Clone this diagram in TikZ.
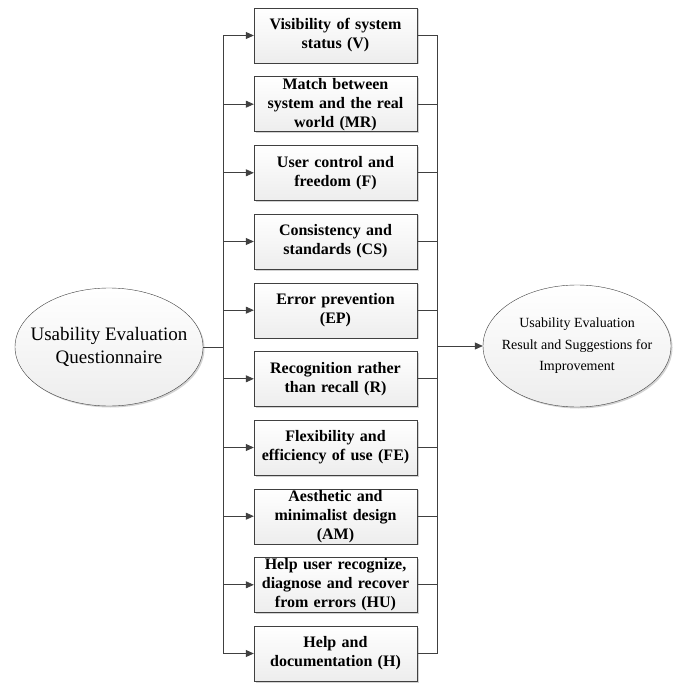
\documentclass[tikz,border=0pt]{standalone}
\usepackage{fontspec}
\setmainfont{Liberation Serif}
\usetikzlibrary{arrows.meta,shadows,shapes.geometric}
\definecolor{linegray}{HTML}{404040}
\tikzset{
  crit/.style={draw=linegray, top color=white, bottom color=gray!14,
    minimum width=163pt, minimum height=55pt, text width=161pt,
    align=center, inner sep=0pt,
    font=\bfseries\fontsize{16}{19}\selectfont,
    drop shadow={shadow xshift=1.5pt, shadow yshift=-1.5pt, fill=gray!70}},
  oval/.style={draw=linegray, ellipse, inner sep=0pt, top color=white,
    bottom color=gray!14,
    drop shadow={shadow xshift=1.5pt, shadow yshift=-1.5pt, fill=gray!70}},
  link/.style={draw=linegray, line width=0.8pt},
  arr/.style={link, -{Triangle[length=8pt,width=7pt]}}
}
\begin{document}
\begin{tikzpicture}[x=1pt,y=1pt]
\useasboundingbox (0,0) rectangle (672,-684);
% the two ellipses
\node [oval, minimum width=188pt, minimum height=118pt] (quest) at (109,-347) {};
\node [align=center, font=\fontsize{19}{23}\selectfont] (questtxt) at (quest)
  {Usability Evaluation\\Questionnaire};
\node [oval, minimum width=188pt, minimum height=122pt] (result) at (577,-346) {};
\node [align=center, font=\fontsize{14}{21.5}\selectfont] (resulttxt) at (result)
  {Usability Evaluation\\Result and Suggestions for\\Improvement};
% the ten criteria
\node [crit] (v)  at (335.5,-35.5)  {Visibility of system\\status (V)};
\node [crit] (mr) at (335.5,-104.2) {Match between\\system and the real\\world (MR)};
\node [crit] (f)  at (335.5,-172.8) {User control and\\freedom (F)};
\node [crit] (cs) at (335.5,-241.5) {Consistency and\\standards (CS)};
\node [crit] (ep) at (335.5,-310.2) {Error prevention\\(EP)};
\node [crit] (r)  at (335.5,-378.8) {Recognition rather\\than recall (R)};
\node [crit] (fe) at (335.5,-447.5) {Flexibility and\\efficiency of use (FE)};
\node [crit] (am) at (335.5,-516.2) {Aesthetic and\\minimalist design\\(AM)};
\node [crit] (hu) at (335.5,-584.8) {Help user recognize,\\diagnose and recover\\from errors (HU)};
\node [crit] (h)  at (335.5,-653.5) {Help and\\documentation (H)};
% spines
\coordinate (lt) at (223,-35.5);
\coordinate (lb) at (223,-653.5);
\coordinate (rt) at (437,-35.5);
\coordinate (rb) at (437,-653.5);
\draw [link] (lt) -- (lb);
\draw [link] (rt) -- (rb);
\draw [link] (quest.east) -- (quest.east -| lt);
\draw [arr] (result.west -| rt) -- (result.west);
% branches
\draw [arr] (v.west -| lt) -- (v.west);
\draw [link] (v.east) -- (v.east -| rt);
\draw [arr] (mr.west -| lt) -- (mr.west);
\draw [link] (mr.east) -- (mr.east -| rt);
\draw [arr] (f.west -| lt) -- (f.west);
\draw [link] (f.east) -- (f.east -| rt);
\draw [arr] (cs.west -| lt) -- (cs.west);
\draw [link] (cs.east) -- (cs.east -| rt);
\draw [arr] (ep.west -| lt) -- (ep.west);
\draw [link] (ep.east) -- (ep.east -| rt);
\draw [arr] (r.west -| lt) -- (r.west);
\draw [link] (r.east) -- (r.east -| rt);
\draw [arr] (fe.west -| lt) -- (fe.west);
\draw [link] (fe.east) -- (fe.east -| rt);
\draw [arr] (am.west -| lt) -- (am.west);
\draw [link] (am.east) -- (am.east -| rt);
\draw [arr] (hu.west -| lt) -- (hu.west);
\draw [link] (hu.east) -- (hu.east -| rt);
\draw [arr] (h.west -| lt) -- (h.west);
\draw [link] (h.east) -- (h.east -| rt);
\end{tikzpicture}
\end{document}
